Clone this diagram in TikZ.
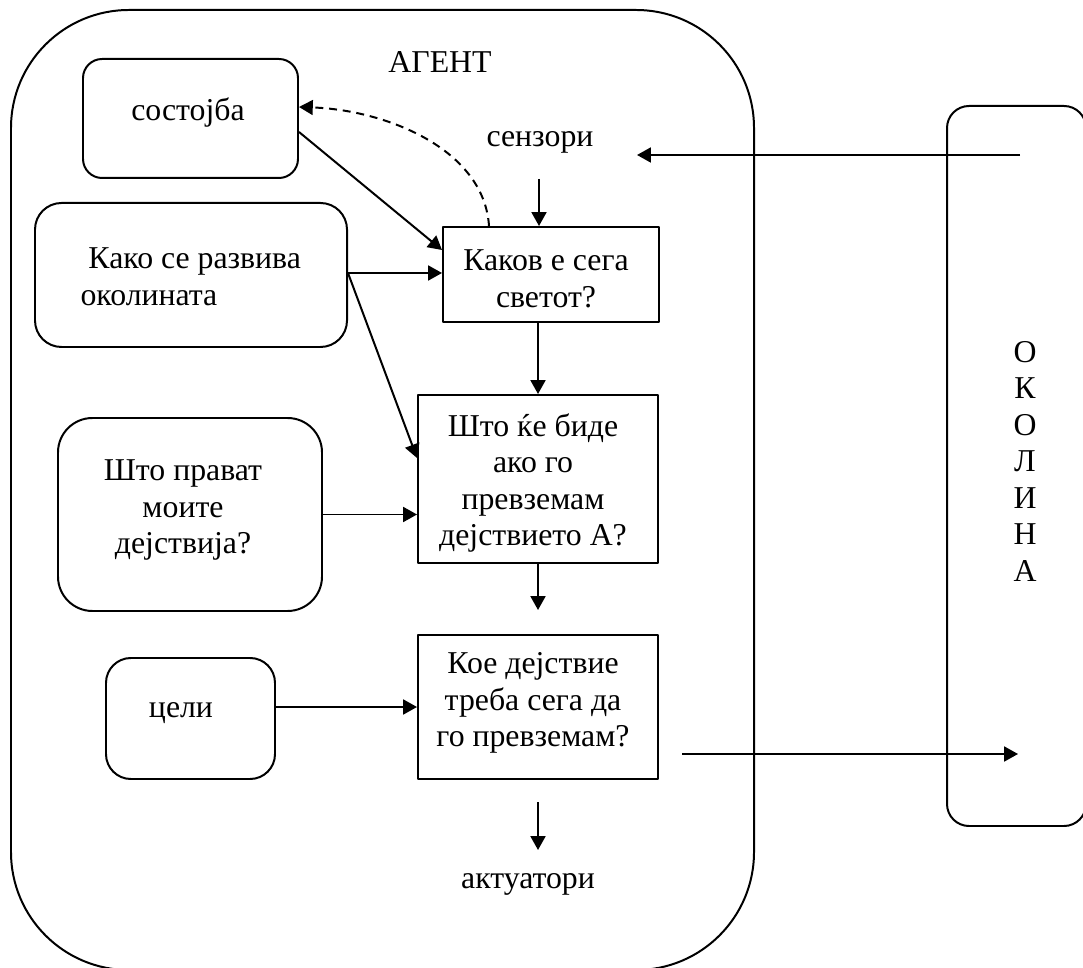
\documentclass[tikz,border=0pt]{standalone}
\usepackage{fontspec}
\setmainfont{Liberation Serif}
\usetikzlibrary{arrows.meta,positioning,fit,calc}
\tikzset{
  frame/.style={draw=black,line width=0.75pt,inner sep=0pt},
  rbox/.style={frame,rounded corners=#1},
  rbox/.default=7pt,
  sbox/.style={frame},
  txt/.style={inner sep=0pt,align=center},
  arr/.style={-{Triangle[length=5.2pt,width=5.6pt]},line width=0.75pt,draw=black},
  dsh/.style={arr,dash pattern=on 3pt off 2.2pt},
}
\begin{document}
\begin{tikzpicture}[x=0.3774pt,y=-0.3774pt,line join=round,font=\fontsize{12}{13.8}\selectfont]
\useasboundingbox (0,0) rectangle (1083,968);
% agent and environment
\node[rbox=44.5pt,fit={(11,10) (754,970)}] (agent) {};
\node[rbox=8.3pt,fit={(947,106) (1086,826)}] (env) {};
\node[txt,anchor=base] (agentlbl) at (440,73) {АГЕНТ};
\foreach \ch [count=\i from 0] in {О,К,О,Л,И,Н,А}
  \node[txt] (envch\i) at (1025,{352+36.5*\i}) {\ch};
% inner boxes
\node[rbox=7.2pt,fit={(83,59) (298,178)}] (state) {};
\node[rbox=10pt,fit={(35,203) (347,347)}] (evolve) {};
\node[rbox=13pt,fit={(58,418) (322,611)}] (effects) {};
\node[rbox=9.4pt,fit={(106,658) (275,779)}] (goals) {};
\node[sbox,fit={(443,227) (659,322)}] (now) {};
\node[sbox,fit={(418,395) (658,563)}] (whatif) {};
\node[sbox,fit={(418,635) (658,779)}] (choose) {};
% texts
\node[txt] (statetxt) at (188,113) {состојба};
\node[txt,align=left,anchor=west] (evolvetxt) at (80,277) {~Како се развива\\околината};
\node[txt] (effectstxt) at (183,510) {Што прават\\моите\\дејствија?};
\node[txt] (goalstxt) at (181,713) {цели};
\node[txt] (nowtxt) at (546,279) {Каков е сега\\светот?};
\node[txt] (whatiftxt) at (533,483) {Што ќе биде\\ако го\\превземам\\дејствието А?};
\node[txt] (choosetxt) at (533,703) {Кое дејствие\\треба сега да\\го превземам?};
\node[txt,anchor=base] (sensors) at (540,147) {сензори};
\node[txt,anchor=base] (actuators) at (528,888) {актуатори};
% free ends
\coordinate (sensIn) at (1020,155);
\coordinate (sensOut) at (637,155);
\coordinate (sensDown) at (539,179);
\coordinate (gapEnd) at (538,610);
\coordinate (outStart) at (682,754);
\coordinate (outEnd) at (1018,754);
\coordinate (actTop) at (538,802);
\coordinate (actEnd) at (538,850);
% connectors
\draw[arr] (sensIn) -- (sensOut);
\draw[arr] (sensDown) -- (sensDown |- now.north);
\draw[dsh] ($(now.north west)+(47,0)$) .. controls +(-5,-77) and +(87,3) .. (state.east |- 0,107);
\draw[arr] (state.east |- 0,132) -- (now.west |- 0,250);
\draw[arr] (evolve.east |- 0,273) -- (now.west |- 0,273);
\draw[arr] (evolve.east |- 0,273) -- (whatif.west |- 0,458);
\draw[arr] (whatif.north |- now.south) -- (whatif.north);
\draw[arr] (effects.east) -- (effects.east -| whatif.west);
\draw[arr] (whatif.south) -- (gapEnd);
\draw[arr] (goals.east |- choose.west) -- (choose.west);
\draw[arr] (outStart) -- (outEnd);
\draw[arr] (actTop) -- (actEnd);
\end{tikzpicture}
\end{document}
